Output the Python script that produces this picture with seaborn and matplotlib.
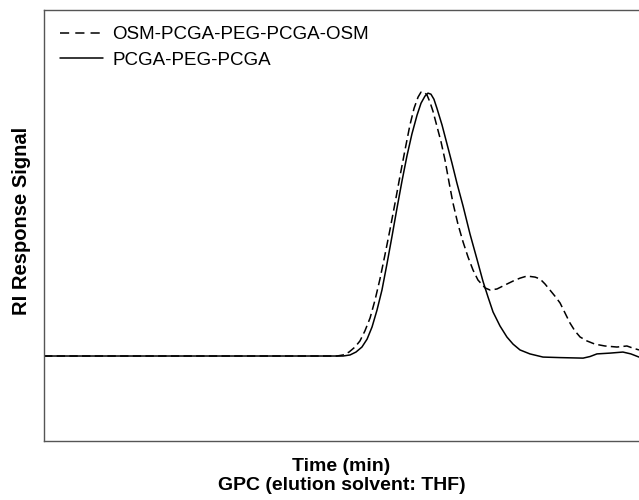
import numpy as np
import pandas as pd
import matplotlib
matplotlib.use("Agg")
import matplotlib.pyplot as plt
import seaborn as sns

# GPC traces (time in min, RI signal normalised to peak)
time_osm = [0.0, 14.77, 15.08, 15.38, 15.68, 15.93, 16.18, 16.44, 16.69, 16.94,
            17.19, 17.45, 17.70, 17.95, 18.20, 18.45, 18.66, 18.86, 19.01, 19.16,
            19.31, 19.46, 19.61, 19.81, 20.02, 20.22, 20.42, 20.62, 20.87, 21.13,
            21.38, 21.63, 21.88, 22.24, 22.49, 22.84, 23.24, 23.65, 24.00, 24.35,
            24.76, 25.01, 25.26, 25.51, 25.76, 26.02, 26.27, 26.52, 26.77, 27.03,
            27.38, 27.78, 28.28, 28.89, 29.39, 29.69, 30.00]
signal_osm = [0.0, 0.0, 0.004, 0.015, 0.034, 0.057, 0.095, 0.144, 0.212, 0.292,
              0.383, 0.481, 0.580, 0.682, 0.780, 0.875, 0.939, 0.981, 1.0, 1.0,
              0.989, 0.962, 0.928, 0.871, 0.811, 0.742, 0.659, 0.580, 0.500, 0.432,
              0.375, 0.326, 0.288, 0.258, 0.250, 0.254, 0.269, 0.284, 0.295, 0.303,
              0.299, 0.292, 0.273, 0.250, 0.227, 0.201, 0.163, 0.125, 0.095, 0.072,
              0.057, 0.045, 0.038, 0.034, 0.038, 0.030, 0.023]

time_peg = [0.0, 15.08, 15.43, 15.73, 16.03, 16.29, 16.54, 16.79, 17.04, 17.29,
            17.55, 17.80, 18.05, 18.30, 18.55, 18.81, 19.01, 19.21, 19.36, 19.51,
            19.66, 19.81, 20.07, 20.32, 20.57, 20.82, 21.13, 21.48, 21.83, 22.13,
            22.39, 22.64, 22.99, 23.34, 23.65, 24.00, 24.50, 25.16, 26.02, 27.18,
            27.53, 27.88, 28.54, 29.19, 29.59, 30.00]
signal_peg = [0.0, 0.0, 0.004, 0.015, 0.034, 0.064, 0.110, 0.174, 0.250, 0.348,
              0.455, 0.561, 0.663, 0.758, 0.841, 0.913, 0.958, 0.985, 0.996, 0.992,
              0.973, 0.939, 0.875, 0.803, 0.731, 0.655, 0.568, 0.462, 0.367, 0.284,
              0.223, 0.167, 0.114, 0.072, 0.045, 0.023, 0.008, -0.004, -0.006, -0.008,
              -0.002, 0.008, 0.011, 0.015, 0.008, -0.004]

label_osm = "OSM-PCGA-PEG-PCGA-OSM"
label_peg = "PCGA-PEG-PCGA"

sns.set_style("white")
plt.rcParams["font.family"] = ["Liberation Sans", "DejaVu Sans"]
plt.rcParams["text.color"] = "black"
plt.rcParams["axes.labelcolor"] = "black"

fig = plt.figure(figsize=(6.39, 5.0), dpi=100)
ax = fig.add_axes([44 / 639, 1 - 441 / 500, 595 / 639, 431 / 500])

df_osm = pd.DataFrame({"t": time_osm, "s": signal_osm})
df_peg = pd.DataFrame({"t": time_peg, "s": signal_peg})

sns.lineplot(data=df_osm, x="t", y="s", ax=ax, color="black", lw=1.1,
             label=label_osm)
ax.lines[-1].set_dashes([5.5, 2.8])
sns.lineplot(data=df_peg, x="t", y="s", ax=ax, color="black", lw=1.1,
             label=label_peg)
for ln in ax.lines:
    ln.set_solid_joinstyle("round")
    ln.set_dash_joinstyle("round")

ax.set_xlim(0, 30)
ax.set_ylim(-0.322, 1.311)
ax.set_xticks([])
ax.set_yticks([])

for side in ["left", "bottom", "top"]:
    ax.spines[side].set_color("#555555")
    ax.spines[side].set_linewidth(1.0)
ax.spines["right"].set_visible(False)

ax.set_xlabel("Time (min)\nGPC (elution solvent: THF)", fontsize=14,
              fontweight="bold", linespacing=1.12)
ax.xaxis.set_label_coords(0.5, -0.04)
ax.xaxis.label.set_va("top")
ax.set_ylabel("RI Response Signal", fontsize=14.5, fontweight="bold")
ax.yaxis.set_label_coords(-0.022, 0.51)

leg = ax.legend(loc="upper left", bbox_to_anchor=(0.027, 0.963), frameon=False,
                fontsize=13.5, handlelength=2.3, handletextpad=0.48,
                labelspacing=0.46, borderpad=0, borderaxespad=0)
leg.get_lines()[0].set_dashes([6.0, 4.0])

fig.savefig("out.png", dpi=100)
